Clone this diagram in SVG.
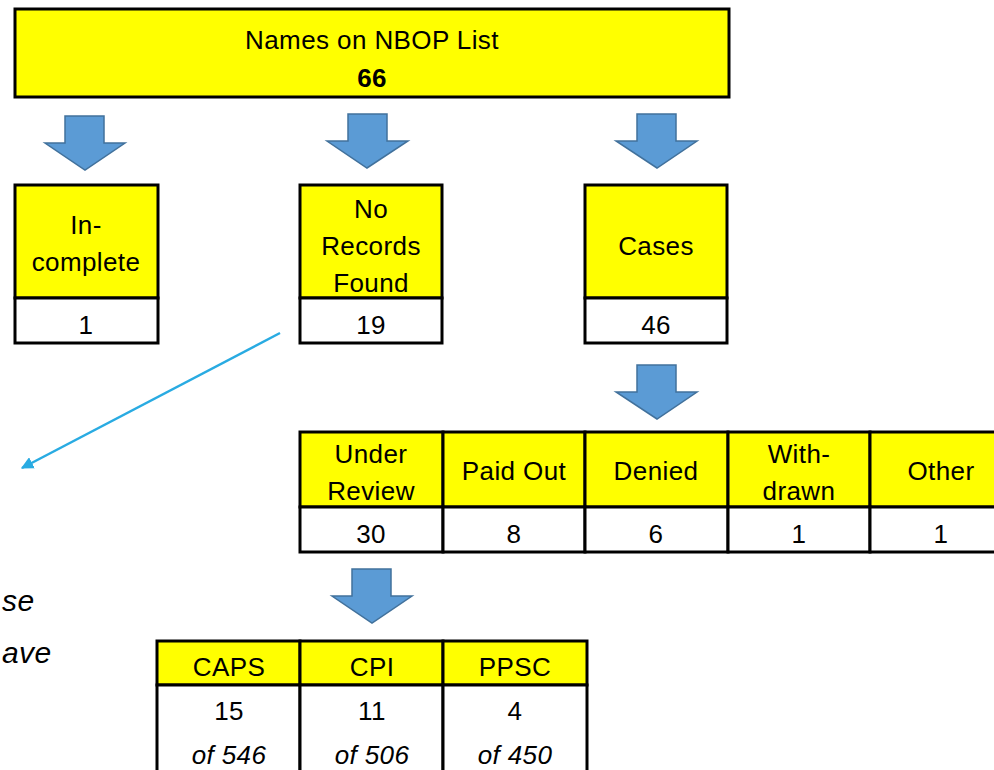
<svg xmlns="http://www.w3.org/2000/svg" width="994" height="770" viewBox="0 0 994 770">
<defs>
<style>
.y{fill:#FFFF00;stroke:#000;stroke-width:3}
.w{fill:#FFFFFF;stroke:#000;stroke-width:3}
.t{font-family:"Liberation Sans",Arial,sans-serif;font-size:26px;letter-spacing:0.4px;fill:#000;text-anchor:middle}
.b{font-weight:bold}
.i{font-style:italic}
.n{font-size:30px;text-anchor:start}
.arr{fill:#5B9BD5;stroke:#41719C;stroke-width:1.5}
</style>
<marker id="ah" viewBox="0 0 10 10" refX="9" refY="5" markerWidth="5" markerHeight="5" orient="auto" markerUnits="strokeWidth">
<path d="M0,0 L10,5 L0,10 z" fill="#29ABE2"/>
</marker>
</defs>
<rect width="994" height="770" fill="#FFFFFF"/>

<g id="top">
<rect class="y" x="15" y="9" width="714" height="88"/>
<text class="t" x="372" y="49">Names on NBOP List</text>
<text class="t b" x="372" y="87">66</text>
</g>

<g id="connectors">
<path class="arr" d="M65,116 H104 V143 H125 L85,170 L45,143 H65 Z"/>
<path class="arr" d="M348,114 H387 V141 H408 L367,168 L327,141 H348 Z"/>
<path class="arr" d="M637,114 H676 V141 H697 L657,168 L616,141 H637 Z"/>
<path class="arr" d="M637,365 H676 V392 H697 L657,419 L616,392 H637 Z"/>
<path class="arr" d="M352,569 H391 V596 H412 L372,623 L332,596 H352 Z"/>
<line x1="280" y1="333" x2="22" y2="468" stroke="#29ABE2" stroke-width="2.5" marker-end="url(#ah)"/>
</g>

<g id="incomplete">
<rect class="y" x="15" y="185" width="143" height="113"/>
<rect class="w" x="15" y="298" width="143" height="45"/>
<text class="t" x="86" y="234">In-</text>
<text class="t" x="86" y="271">complete</text>
<text class="t" x="86" y="334">1</text>
</g>

<g id="norecords">
<rect class="y" x="300" y="185" width="142" height="113"/>
<rect class="w" x="300" y="298" width="142" height="45"/>
<text class="t" x="371" y="218">No</text>
<text class="t" x="371" y="255">Records</text>
<text class="t" x="371" y="292">Found</text>
<text class="t" x="371" y="334">19</text>
</g>

<g id="cases">
<rect class="y" x="585" y="185" width="142" height="113"/>
<rect class="w" x="585" y="298" width="142" height="45"/>
<text class="t" x="656" y="255">Cases</text>
<text class="t" x="656" y="334">46</text>
</g>

<g id="outcomes">
<rect class="y" x="300" y="432" width="143" height="75"/>
<rect class="y" x="443" y="432" width="142" height="75"/>
<rect class="y" x="585" y="432" width="143" height="75"/>
<rect class="y" x="728" y="432" width="142" height="75"/>
<rect class="y" x="870" y="432" width="143" height="75"/>
<rect class="w" x="300" y="507" width="143" height="45"/>
<rect class="w" x="443" y="507" width="142" height="45"/>
<rect class="w" x="585" y="507" width="143" height="45"/>
<rect class="w" x="728" y="507" width="142" height="45"/>
<rect class="w" x="870" y="507" width="143" height="45"/>
<text class="t" x="371" y="463">Under</text>
<text class="t" x="371" y="500">Review</text>
<text class="t" x="514" y="480">Paid Out</text>
<text class="t" x="656" y="480">Denied</text>
<text class="t" x="799" y="463">With-</text>
<text class="t" x="799" y="500">drawn</text>
<text class="t" x="941" y="480">Other</text>
<text class="t" x="371" y="543">30</text>
<text class="t" x="514" y="543">8</text>
<text class="t" x="656" y="543">6</text>
<text class="t" x="799" y="543">1</text>
<text class="t" x="941" y="543">1</text>
</g>

<g id="review">
<rect class="y" x="157" y="641" width="143" height="44"/>
<rect class="y" x="300" y="641" width="143" height="44"/>
<rect class="y" x="443" y="641" width="144" height="44"/>
<rect class="w" x="157" y="685" width="143" height="100"/>
<rect class="w" x="300" y="685" width="143" height="100"/>
<rect class="w" x="443" y="685" width="144" height="100"/>
<text class="t" x="229" y="676">CAPS</text>
<text class="t" x="372" y="676">CPI</text>
<text class="t" x="515" y="676">PPSC</text>
<text class="t" x="229" y="720">15</text>
<text class="t" x="372" y="720">11</text>
<text class="t" x="515" y="720">4</text>
<text class="t i" x="229" y="764">of 546</text>
<text class="t i" x="372" y="764">of 506</text>
<text class="t i" x="515" y="764">of 450</text>
</g>

<g id="note">
<text class="t i n" x="2" y="611">se</text>
<text class="t i n" x="2" y="663">ave</text>
</g>
</svg>
